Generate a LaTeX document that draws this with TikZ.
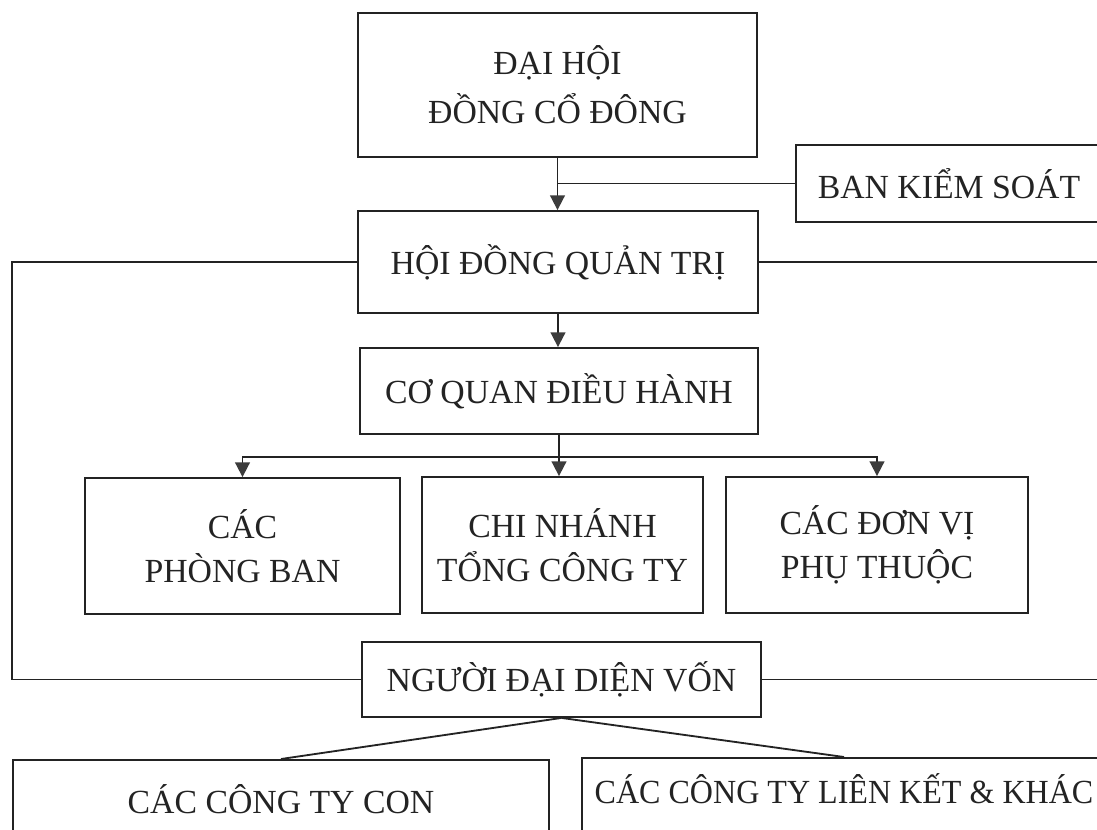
\documentclass[tikz,border=0pt]{standalone}
\usepackage{fontspec}
\setmainfont{Liberation Serif}
\usetikzlibrary{arrows.meta}
\definecolor{ink}{RGB}{35,35,35}
\definecolor{tipc}{RGB}{60,60,60}
\begin{document}
\begin{tikzpicture}[x=0.025cm,y=-0.025cm,
  box/.style={draw=ink, line width=1.3pt, rectangle, inner sep=0pt, align=center, text=ink,
    font=\fontsize{24}{31}\selectfont},
  openbox/.style={draw=ink, line width=1.3pt, rectangle, inner sep=0pt, text=ink,
    font=\fontsize{24}{31}\selectfont, anchor=north},
  link/.style={draw=ink, line width=1.3pt},
  arr/.style={link, -{Triangle[length=10.5pt,width=10.5pt,color=tipc]}}]
\useasboundingbox (0,0) rectangle (1097,829);
\clip (0,0) rectangle (1097,829);
\fill[white] (0,0) rectangle (1097,829);

\node[box, minimum width=399*0.025cm, minimum height=144*0.025cm] (dhcd) at (557.5,85) {ĐẠI HỘI\\[4pt]ĐỒNG CỔ ĐÔNG};
\node[box, minimum width=306*0.025cm, minimum height=77*0.025cm] (bks) at (949,183.5) {BAN KIỂM SOÁT};
\node[box, minimum width=400*0.025cm, minimum height=102*0.025cm] (hdqt) at (558,262) {HỘI ĐỒNG QUẢN TRỊ};
\node[box, minimum width=398*0.025cm, minimum height=86*0.025cm] (cqdh) at (559,391) {CƠ QUAN ĐIỀU HÀNH};
\node[box, minimum width=315*0.025cm, minimum height=136*0.025cm] (phongban) at (242.5,546) {CÁC\\PHÒNG BAN};
\node[box, minimum width=281*0.025cm, minimum height=136*0.025cm] (chinhanh) at (562.5,545) {CHI NHÁNH\\TỔNG CÔNG TY};
\node[box, minimum width=302*0.025cm, minimum height=136*0.025cm] (donvi) at (877,545) {CÁC ĐƠN VỊ\\PHỤ THUỘC};
\node[box, minimum width=399*0.025cm, minimum height=75*0.025cm] (ndd) at (561.5,679.5) {NGƯỜI ĐẠI DIỆN VỐN};
\node[openbox, minimum width=536*0.025cm, text height=54*0.025cm, text depth=57*0.025cm] (con) at (281,759) {CÁC CÔNG TY CON};
\node[openbox, minimum width=524*0.025cm, text height=46*0.025cm, text depth=60*0.025cm] (lienket) at (844,757) {\scalebox{0.95}[1]{CÁC CÔNG TY LIÊN KẾT \& KHÁC}};

\coordinate (bar) at (cqdh.south |- 0,457);
\coordinate (lside) at (12,0);
\coordinate (rside) at (1120,0);

\draw[arr] (dhcd.south) -- (dhcd.south |- hdqt.north);
\draw[link] (bks.west) -- (dhcd.south |- bks.west);
\draw[arr] (hdqt.south) -- (hdqt.south |- cqdh.north);
\draw[link] (cqdh.south) -- (bar);
\draw[arr] (bar) -- (bar |- chinhanh.north);
\draw[arr] (bar) -| (phongban.north);
\draw[arr] (bar) -| (donvi.north);
\draw[link] (hdqt.west) -| (lside |- ndd.west) -- (ndd.west);
\draw[link] (hdqt.east) -| (rside |- ndd.east) -- (ndd.east);
\draw[link] (ndd.south) -- (con.north);
\draw[link] (ndd.south) -- (lienket.north);
\end{tikzpicture}
\end{document}
